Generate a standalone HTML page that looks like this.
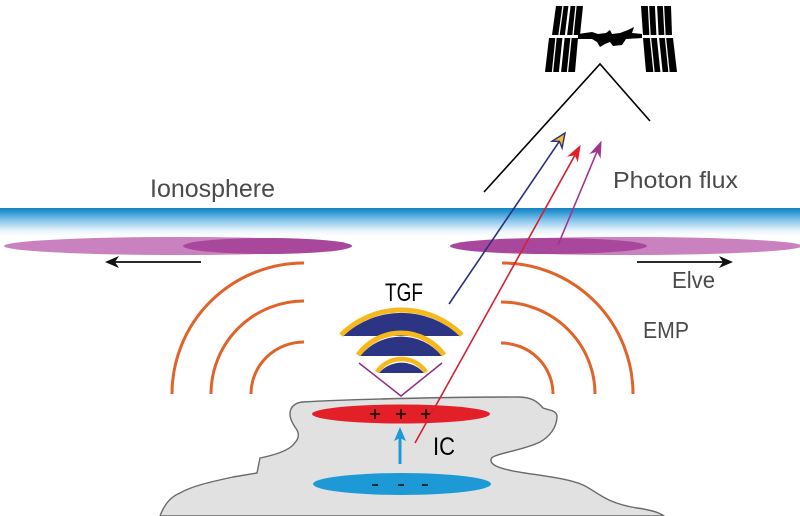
<!DOCTYPE html>
<html>
<head>
<meta charset="utf-8">
<style>
html,body{margin:0;padding:0;background:#fff;}
svg{display:block;}
text{font-family:"Liberation Sans", Arial, sans-serif;}
</style>
</head>
<body>
<svg width="800" height="516" viewBox="0 0 800 516" xmlns="http://www.w3.org/2000/svg">
  <defs>
    <linearGradient id="iono" x1="0" y1="0" x2="0" y2="1">
      <stop offset="0" stop-color="#157fc0"/>
      <stop offset="0.12" stop-color="#2693d0"/>
      <stop offset="0.45" stop-color="#8ac6ea"/>
      <stop offset="0.8" stop-color="#e6f3fb"/>
      <stop offset="1" stop-color="#ffffff"/>
    </linearGradient>
  </defs>

  <!-- ISS -->
  <g fill="#000">
    <polygon points="556,6 583,6 580,35 552,35"/>
    <polygon points="549,38 578,38 575,72 545,72"/>
    <polygon points="641,6 671,6 672,35 643,35"/>
    <polygon points="643,38 673,38 677,72 646,72"/>
    <path d="M578 34 L592 32 L598 34 L606 33 L610 30 L612 34 L620 33 L628 30 L634 27 L632 33 L642 34 L642 38 L626 39 L622 45 L613 46 L610 42 L605 44 L600 47 L597 42 L592 39 L578 39 Z"/>
  </g>
  <g stroke="#fff" stroke-width="1.3">
    <line x1="563" y1="6" x2="559" y2="35"/>
    <line x1="569.5" y1="6" x2="566" y2="35" stroke-width="2.2"/>
    <line x1="576" y1="6" x2="573" y2="35"/>
    <line x1="556" y1="38" x2="552.5" y2="72"/>
    <line x1="563.5" y1="38" x2="560" y2="72" stroke-width="2.2"/>
    <line x1="571" y1="38" x2="567.5" y2="72"/>
    <line x1="648.5" y1="6" x2="650" y2="35"/>
    <line x1="656" y1="6" x2="657.5" y2="35" stroke-width="2.2"/>
    <line x1="663.5" y1="6" x2="665" y2="35"/>
    <line x1="650.5" y1="38" x2="654" y2="72"/>
    <line x1="658" y1="38" x2="661.5" y2="72" stroke-width="2.2"/>
    <line x1="665.5" y1="38" x2="669" y2="72"/>
  </g>

  <!-- viewing cone -->
  <polyline points="484,192 600,64 650,121" fill="none" stroke="#000" stroke-width="1.6"/>

  <!-- labels top -->
  <text x="150" y="197" font-size="25" fill="#4a4a4a" textLength="125" lengthAdjust="spacingAndGlyphs">Ionosphere</text>
  <text x="613" y="188" font-size="23" fill="#4a4a4a" textLength="125" lengthAdjust="spacingAndGlyphs">Photon flux</text>

  <!-- ionosphere band -->
  <rect x="0" y="208" width="800" height="28" fill="url(#iono)"/>

  <!-- elve ellipses -->
  <ellipse cx="178" cy="246" rx="174" ry="9" fill="#c982bf"/>
  <ellipse cx="267.5" cy="246" rx="84.5" ry="8" fill="#a9479c"/>
  <ellipse cx="626" cy="246" rx="176" ry="9" fill="#c982bf"/>
  <ellipse cx="548.5" cy="246" rx="98.5" ry="8" fill="#a9479c"/>

  <!-- elve arrows -->
  <line x1="201" y1="262" x2="112" y2="262" stroke="#2b2b2b" stroke-width="2"/>
  <polygon points="105,262 119,256 115,262 119,268" fill="#111"/>
  <line x1="637" y1="262" x2="726" y2="262" stroke="#2b2b2b" stroke-width="2"/>
  <polygon points="733,262 719,256 723,262 719,268" fill="#111"/>
  <text x="672" y="288" font-size="23" fill="#4a4a4a" textLength="43" lengthAdjust="spacingAndGlyphs">Elve</text>
  <text x="643" y="338" font-size="23" fill="#4a4a4a" textLength="46" lengthAdjust="spacingAndGlyphs">EMP</text>

  <!-- EMP arcs -->
  <g fill="none" stroke="#e0632a" stroke-width="3">
    <path d="M304 263 A132 131 0 0 0 172 394"/>
    <path d="M304 301 A93 93 0 0 0 211 394"/>
    <path d="M304 342 A53 52 0 0 0 251 394"/>
    <path d="M502 263 A131 131 0 0 1 633 394"/>
    <path d="M501 302 A94 92 0 0 1 595 394"/>
    <path d="M501 343 A52 51 0 0 1 553 394"/>
  </g>

  <!-- cloud -->
  <path d="M160 516 C164 505 170 497 180 493 C192 486 210 482 233 477 L257 473 L260 458 C270 456 285 452 292 446 C298 440 300 436 297 430 C292 423 288 416 291 409 C293 405 296 403 302 402 C360 399 450 397 518 397 C532 397 538 402 543 408 C548 410 556 410 557 416 C557 428 549 437 540 442 C526 449 505 452 495 456 C489 458 490 463 496 466 C512 474 560 475 583 485 C598 492 605 503 637 508 C652 510 660 513 664 516 Z" fill="#e1e1e1" stroke="#6a6a6a" stroke-width="1.4"/>

  <!-- charge regions -->
  <ellipse cx="401" cy="414" rx="89" ry="9.5" fill="#e31f28"/>
  <ellipse cx="402" cy="484" rx="89" ry="11" fill="#1d9ad6"/>
  <g stroke="#111" stroke-width="1.6">
    <line x1="370" y1="414" x2="380" y2="414"/><line x1="375" y1="409" x2="375" y2="419"/>
    <line x1="396" y1="414" x2="406" y2="414"/><line x1="401" y1="409" x2="401" y2="419"/>
    <line x1="421" y1="414" x2="431" y2="414"/><line x1="426" y1="409" x2="426" y2="419"/>
    <line x1="372" y1="485" x2="378" y2="485"/>
    <line x1="398" y1="485" x2="404" y2="485"/>
    <line x1="422" y1="485" x2="428" y2="485"/>
  </g>

  <!-- IC arrow -->
  <line x1="400" y1="464" x2="400" y2="438" stroke="#1d9ad6" stroke-width="3"/>
  <polygon points="400,427 406,441 400,438 394,441" fill="#1d9ad6"/>
  <text x="433" y="455" font-size="25" fill="#000" textLength="22" lengthAdjust="spacingAndGlyphs">IC</text>

  <!-- TGF -->
  <text x="385" y="301" font-size="25" fill="#000" textLength="38" lengthAdjust="spacingAndGlyphs">TGF</text>
  <path d="M343 336 A85.7 85.7 0 0 1 460 336 Z" fill="#2b3584"/>
  <path d="M341 335 A85.7 85.7 0 0 1 462 335" fill="none" stroke="#f6b81b" stroke-width="5"/>
  <path d="M360 356 A53 53 0 0 1 442 356 Z" fill="#2b3584"/>
  <path d="M358 355 A53 53 0 0 1 444 355" fill="none" stroke="#f6b81b" stroke-width="5"/>
  <path d="M379 373 A29.6 29.6 0 0 1 424 373 Z" fill="#2b3584"/>
  <path d="M377 372 A29.6 29.6 0 0 1 426 372" fill="none" stroke="#f6b81b" stroke-width="4.5"/>
  <polyline points="359,363 401,396 442,363" fill="none" stroke="#8e2b83" stroke-width="1.5"/>

  <!-- photon rays -->
  <line x1="449" y1="304" x2="559.4" y2="141.3" stroke="#2a2f7e" stroke-width="1.6"/>
  <polygon points="565,133 562.1,148 559.4,141.3 552.1,141.2" fill="#f5c02a" stroke="#2a2f7e" stroke-width="1.4" stroke-linejoin="miter"/>
  <line x1="415" y1="443" x2="575.2" y2="154.7" stroke="#d42030" stroke-width="1.6"/>
  <polygon points="580,146 577.6,160.6 575.2,154.7 568.8,155.8" fill="#e31f28" stroke="#e31f28" stroke-width="1"/>
  <line x1="558" y1="245" x2="597.2" y2="151.2" stroke="#a2338f" stroke-width="1.6"/>
  <polygon points="601,142 600.2,156.8 597.2,151.2 591,153" fill="#a2338f" stroke="#a2338f" stroke-width="1"/>
</svg>
</body>
</html>
